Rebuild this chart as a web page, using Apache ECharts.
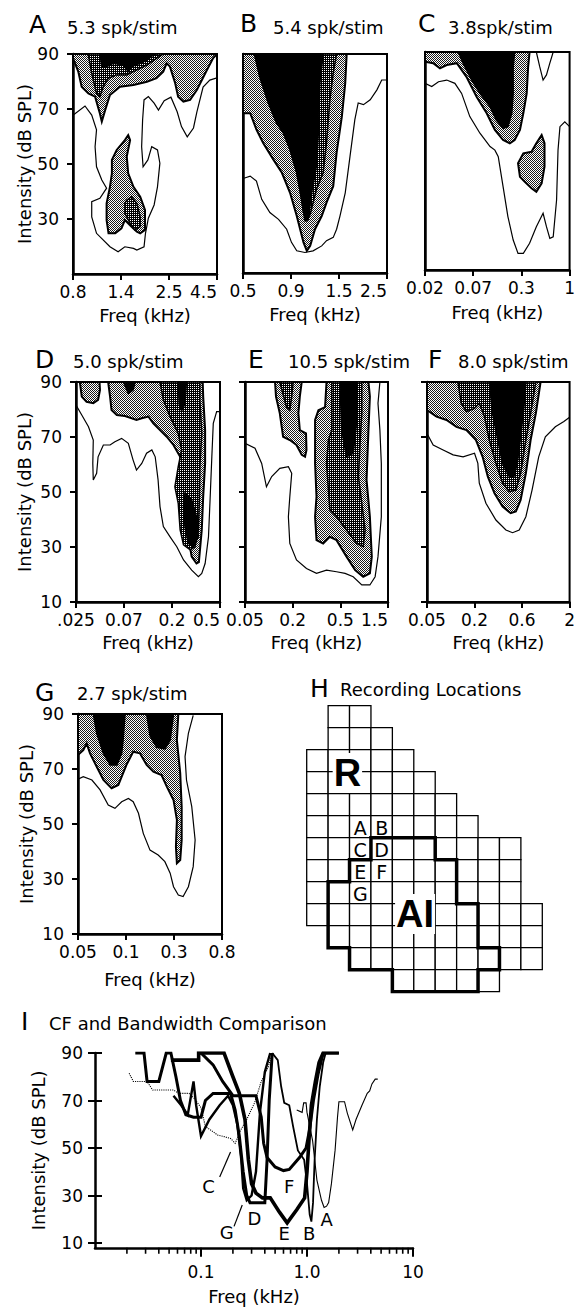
<!DOCTYPE html>
<html><head><meta charset="utf-8">
<script src="https://cdn.jsdelivr.net/npm/echarts@6/dist/echarts.min.js"></script>
<style>html,body{margin:0;padding:0;background:#fff}#c{width:578px;height:1307px}</style>
</head><body><div id="c"></div>
<script>
// ---------------- DATA ----------------
const panelNames = ['A','B','C','D','E','F','G'];
const panelRates = ['5.3 spk/stim','5.4 spk/stim','3.8spk/stim','5.0 spk/stim','10.5 spk/stim','8.0 spk/stim','2.7 spk/stim'];
const A_ticks = ['0.8','1.4','2.5','4.5'];
const B_ticks = ['0.5','0.9','1.5','2.5'];
const C_ticks = ['0.02','0.07','0.3','1'];
const D_ticks = ['.025','0.07','0.2','0.5'];
const E_ticks = ['0.05','0.2','0.5','1.5'];
const F_ticks = ['0.05','0.2','0.6','2'];
const G_ticks = ['0.05','0.1','0.3','0.8'];

// contour lines: x in tick-index units (0..3), y in dB SPL
const A_outer = [[0.006,67.8],[0.25,71.1],[0.39,67.8],[0.49,62.4],[0.46,56.3],[0.49,49.0],[0.60,44.2],[0.70,41.2],[0.56,37.5],[0.39,36.3],[0.39,30.8],[0.49,24.8],[0.77,19.9],[0.94,18.1],[1.08,19.9],[1.26,19.3],[1.33,18.7],[1.48,19.9],[1.51,24.8],[1.57,30.3],[1.69,35.1],[1.76,41.7],[1.81,50.3],[1.76,55.1],[1.64,56.3],[1.56,51.5],[1.46,49.0],[1.43,56.3],[1.45,66.0],[1.48,73.3],[1.57,74.5],[1.69,72.1],[1.78,69.6],[1.90,73.0],[2.04,74.3],[2.17,69.0],[2.26,63.6],[2.38,59.9],[2.51,63.1],[2.58,68.9],[2.71,78.0],[2.85,80.5],[3.0,81.3]];
const A_stip = [[0,90],[0,88.5],[0.11,83.6],[0.18,78.1],[0.32,75.7],[0.46,74.5],[0.56,68.4],[0.60,65.4],[0.67,69.6],[0.77,75.1],[0.98,78.1],[1.26,78.7],[1.54,79.9],[1.74,81.2],[1.88,83.6],[1.95,86.6],[2.02,85.4],[2.13,79.3],[2.19,74.5],[2.30,72.7],[2.44,73.3],[2.58,76.9],[2.79,84.2],[2.92,88.5],[3,90]];
const A_stip2 = [[0.81,51.5],[0.91,55.1],[1.08,58.7],[1.15,60.5],[1.19,58.7],[1.12,52.7],[1.15,46.6],[1.26,41.7],[1.40,38.1],[1.50,33.3],[1.50,26.0],[1.40,24.8],[1.33,25.4],[1.22,27.2],[1.08,29.6],[1.01,26.6],[0.88,24.8],[0.74,24.8],[0.70,29.6],[0.70,35.7],[0.77,41.7],[0.81,46.6]];
const A_dark = [[0.32,90],[0.32,89.6],[0.39,83],[0.49,75.7],[0.56,74.5],[0.63,78.1],[0.74,81.2],[0.91,82.4],[1.12,82.4],[1.26,83.6],[1.54,86],[1.74,88.4],[1.88,90]];
const A_dark2 = [[1.12,36.9],[1.22,38.1],[1.33,35.7],[1.40,30.8],[1.40,27.2],[1.29,26.0],[1.19,28.4],[1.08,32.1],[1.08,35.7]];
const A_black = [[0.56,90],[0.60,85.4],[0.70,85.4],[0.84,86.6],[1.05,86],[1.15,83.6],[1.22,85.4],[1.40,86.6],[1.54,87.8],[1.67,89.6],[1.74,90]];

const B_outer = [[0,44.5],[0.15,45.4],[0.28,43.6],[0.39,36.9],[0.56,32.1],[0.74,29.6],[0.91,26],[1.01,21.2],[1.12,18.1],[1.29,17.5],[1.46,18.1],[1.64,19.9],[1.74,21.8],[1.88,23],[1.95,26],[2.02,30.8],[2.13,39.3],[2.23,52.7],[2.33,66],[2.40,72.1],[2.51,71.5],[2.65,73.3],[2.79,76.9],[2.89,80.5],[3.0,80.5]];
const B_stip = [[0,90],[0,68.4],[0.15,68.4],[0.28,62.4],[0.42,57.5],[0.63,51.5],[0.81,46.6],[0.98,39.3],[1.12,30.8],[1.26,21.2],[1.33,18.1],[1.40,19.9],[1.50,26],[1.64,30.8],[1.74,35.7],[1.88,41.7],[1.95,53.9],[2.06,67.2],[2.13,79.3],[2.16,90]];
const B_dark = [[0.24,90],[0.35,81.7],[0.53,72.1],[0.70,64.8],[0.84,61.2],[0.98,55.1],[1.12,46.6],[1.22,36.9],[1.26,32.1],[1.33,29.1],[1.40,31.5],[1.53,40.5],[1.67,46.6],[1.74,57.5],[1.81,73.3],[1.88,83],[1.95,90]];
const B_black = [[0.24,90],[0.35,81.7],[0.53,72.1],[0.70,64.8],[0.84,61.2],[0.98,55.1],[1.12,46.6],[1.22,36.9],[1.29,29.1],[1.36,29.6],[1.43,39.3],[1.53,49],[1.57,61.2],[1.60,79.3],[1.67,90]];

const C_outer = [[0,78.5],[0.14,77.3],[0.28,79.1],[0.45,79.7],[0.62,78.5],[0.76,74.8],[0.93,66.3],[1.14,60.2],[1.35,55.3],[1.45,54],[1.52,51.6],[1.62,40.6],[1.72,29.6],[1.83,21],[1.93,16.1],[2.04,16.1],[2.17,19.8],[2.31,25.9],[2.45,30.8],[2.52,25.9],[2.59,21.6],[2.66,22.2],[2.73,35.7],[2.76,54],[2.80,62.6],[2.90,64.4],[3.0,62.6]];
const C_outer2 = [[2.31,90],[2.38,84.6],[2.45,79.7],[2.52,81.6],[2.59,85.9],[2.66,90]];
const C_stip = [[0,90],[0,86.4],[0.17,85.9],[0.31,84],[0.45,85.2],[0.66,85.9],[0.86,80.9],[1.07,73.6],[1.28,67.5],[1.45,61.4],[1.62,57.7],[1.76,56.5],[1.86,57.7],[1.97,61.4],[2.04,67.5],[2.11,74.8],[2.14,84.6],[2.17,90]];
const C_stip2 = [[1.93,49.2],[2.04,52.8],[2.21,53.4],[2.31,56.5],[2.42,59.5],[2.48,56.5],[2.48,47.9],[2.42,41.8],[2.31,38.7],[2.21,40],[2.07,42.4],[1.97,44.2]];
const C_black = [[0.69,90],[0.79,85.9],[0.97,79.7],[1.14,74.8],[1.35,69.9],[1.48,65],[1.62,62],[1.72,62.6],[1.80,67.5],[1.83,74.8],[1.83,84.6],[1.86,90]];

const D_outer = [[0,81.6],[0.12,78],[0.26,73.7],[0.36,68.9],[0.35,60.4],[0.36,54.4],[0.43,56.8],[0.46,62.8],[0.57,67.1],[0.71,67.1],[0.81,68.3],[0.95,69.5],[1.09,67.7],[1.19,61.6],[1.26,58],[1.37,60.4],[1.47,64.1],[1.58,65.3],[1.65,62.8],[1.71,54.4],[1.75,44.7],[1.82,37.4],[1.96,33.7],[2.10,30.1],[2.24,25.3],[2.41,21.6],[2.55,19.2],[2.62,20.4],[2.69,24],[2.76,33.7],[2.79,45.9],[2.83,62.8],[2.86,75],[2.93,79.2],[3.0,79.2]];
const D_stip = [[0.08,90],[0.12,84.7],[0.22,82.8],[0.36,82.3],[0.46,83.5],[0.5,87.1],[0.49,90]];
const D_stip2 = [[0.67,90],[0.71,84.7],[0.74,79.8],[0.85,78],[1.02,77.6],[1.16,76.8],[1.26,76.2],[1.37,76.8],[1.51,77.4],[1.61,75],[1.75,72.5],[1.89,70.1],[2.03,67.1],[2.17,62.8],[2.2,56.8],[2.17,50.7],[2.2,43.5],[2.31,36.2],[2.41,26.5],[2.51,24],[2.56,24.5],[2.62,36.2],[2.65,48.3],[2.69,60.4],[2.69,72.5],[2.65,84.7],[2.64,90]];
const D_dark = [[1.75,90],[1.82,83.5],[1.96,77.4],[2.13,71.3],[2.2,65.3],[2.13,59.2],[2.06,51.9],[2.13,45.9],[2.17,36.2],[2.24,30.8],[2.38,29],[2.48,30.1],[2.55,36.2],[2.57,47.1],[2.58,59.2],[2.62,71.3],[2.58,83.5],[2.58,90]];
const D_black = [[0.99,90],[1.09,85.8],[1.19,87.1],[1.23,90]];
const D_black2 = [[2.13,90],[2.15,82],[2.2,79.5],[2.27,82],[2.3,90]];
const D_black3 = [[2.27,49.5],[2.41,47.1],[2.51,41],[2.55,33.7],[2.44,30.1],[2.34,31.3],[2.27,37.4],[2.24,44.7]];

const E_outer = [[0,67.7],[0.21,65.9],[0.35,60.4],[0.45,51.9],[0.56,55.6],[0.73,58.6],[0.91,59.2],[0.98,56.8],[0.94,48.3],[0.91,41],[0.94,31.3],[1.08,25.3],[1.29,22.2],[1.50,20.4],[1.71,21.6],[1.92,21],[2.10,20.4],[2.27,19.2],[2.45,16.2],[2.62,16.2],[2.73,19.2],[2.79,26.5],[2.86,41],[2.86,60.4],[2.83,72.5],[2.79,82.3],[2.83,90]];
const E_stip = [[0.63,90],[0.65,84.7],[0.73,78.6],[0.77,73.7],[0.80,70.1],[0.94,68.9],[1.08,67.1],[1.19,63.5],[1.26,62.8],[1.29,65.3],[1.28,71.3],[1.15,72.5],[1.12,78.6],[1.15,84.7],[1.19,90]];
const E_stip2 = [[1.71,90],[1.68,80.9],[1.54,79.7],[1.47,76.2],[1.47,60.4],[1.50,48.3],[1.47,41],[1.50,32.5],[1.64,31.3],[1.78,33.7],[1.92,32.5],[2.13,26.5],[2.31,21.6],[2.48,19.2],[2.62,20.4],[2.66,26.5],[2.62,41],[2.55,54.4],[2.59,72.5],[2.62,84.7],[2.59,90]];
const E_dark = [[0.73,90],[0.87,80.9],[0.94,79.8],[0.98,84.7],[1.01,90]];
const E_dark2 = [[1.82,90],[1.82,72.5],[1.75,68.9],[1.71,60.4],[1.75,50.7],[1.78,43.5],[1.92,41],[2.13,36.2],[2.34,31.3],[2.48,30.1],[2.52,36.2],[2.45,45.9],[2.38,55.6],[2.41,66.5],[2.45,78.6],[2.45,90]];
const E_black = [[1.99,90],[2.03,72.5],[2.13,62.8],[2.27,64.1],[2.34,75],[2.34,90]];

const F_outer = [[0,71.3],[0.13,67.1],[0.34,65.3],[0.55,63.5],[0.76,62.8],[1.0,64.1],[1.07,60.4],[1.10,53.2],[1.24,45.9],[1.45,39.8],[1.66,36.2],[1.80,35.2],[1.94,36.2],[2.08,41],[2.21,50.7],[2.35,62.8],[2.49,70.1],[2.70,73.7],[2.88,75.6],[3.0,77.2]];
const F_stip = [[0,90],[0,79.8],[0.2,77.4],[0.41,76.2],[0.62,73.7],[0.83,72.5],[1.03,68.9],[1.17,62.8],[1.28,55.6],[1.42,49.5],[1.59,44.7],[1.76,42.3],[1.87,42.9],[1.97,47.1],[2.08,56.8],[2.18,68.9],[2.29,78.6],[2.39,90]];
const F_dark = [[0.65,90],[0.72,82.3],[0.83,79.2],[1.0,80.4],[1.1,82.3],[1.21,77.4],[1.31,68.9],[1.45,60.4],[1.59,53.2],[1.73,50.1],[1.87,50.7],[1.97,56.8],[2.08,68.9],[2.18,78.6],[2.29,90]];
const F_black = [[1.31,90],[1.38,78.6],[1.49,68.9],[1.59,60.4],[1.73,55.6],[1.83,55.6],[1.90,60.4],[1.97,70.1],[2.04,81],[2.08,90]];

const G_outer = [[0,66.3],[0.11,67.2],[0.29,66],[0.46,62.4],[0.63,56.9],[0.77,55.7],[0.91,58.1],[1.05,59.3],[1.15,58.1],[1.26,53.9],[1.36,46.6],[1.5,40.5],[1.67,38.7],[1.81,36.3],[1.92,32.1],[1.99,27.2],[2.09,24.2],[2.19,23.6],[2.30,27.2],[2.40,34.5],[2.44,44.2],[2.37,56.3],[2.26,66],[2.23,74.5],[2.30,83],[2.40,89.5]];
const G_stip = [[0,90],[0,75.1],[0.11,76.9],[0.18,79.3],[0.25,75.7],[0.39,70.8],[0.53,66],[0.70,63],[0.84,64.2],[1.01,71.5],[1.15,76.3],[1.29,75.7],[1.43,71.5],[1.57,69],[1.74,67.8],[1.85,63.6],[1.99,58.7],[2.06,51.5],[2.04,41.7],[2.06,35.7],[2.13,36.9],[2.16,44.2],[2.16,56.3],[2.13,68.4],[2.06,80.5],[2.09,90]];
const G_black = [[0.32,90],[0.39,83],[0.53,75.7],[0.67,71.5],[0.81,71.5],[0.91,75.7],[0.94,80.5],[0.98,90]];
const G_black2 = [[1.43,90],[1.5,82.1],[1.64,77.9],[1.81,77.3],[1.92,80.5],[1.99,90]];

// H: recording grid (row r has cells from rowStart[r] to rowEnd[r])
const H_rowStart = [1,1,0,0,0,0,0,0,0,0,1,2,4];
const H_rowEnd   = [2,3,4,5,6,7,9,9,9,10,10,10,8];
const H_sites = [['A',2,5],['B',3,5],['C',2,6],['D',3,6],['E',2,7],['F',3,7],['G',2,8]];
const H_regions = [['R',1.9,3.06],['AI',5.06,9.47]];
const H_border = [[3,6],[6,6],[6,7],[7,7],[7,9],[8,9],[8,11],[9,11],[9,12],[8,12],[8,13],[4,13],[4,12],[2,12],[2,11],[1,11],[1,8],[2,8],[2,7],[3,7],[3,6]];

// I: tuning curves (freq kHz, dB SPL)
const I_A = [[0.8,66],[0.9,65],[0.93,69],[0.98,69],[1.0,65],[1.13,53],[1.24,36.5],[1.37,28],[1.45,25],[1.53,25.5],[1.6,27],[1.7,35],[1.84,49],[1.94,63],[2.0,69.5],[2.26,69.5],[2.4,64.7],[2.7,57.6],[2.9,62],[3.3,68],[3.7,73],[3.9,74],[4.1,77],[4.4,79],[4.65,79]];
const I_B = [[0.47,90],[0.53,87],[0.57,76],[0.61,69],[0.68,68],[0.74,59],[0.82,49],[0.94,45],[1.0,35],[1.06,22],[1.1,19],[1.14,27],[1.18,45],[1.24,62],[1.32,76],[1.42,86],[1.5,90],[2.0,90]];
const I_C = [[0.021,81.5],[0.023,78],[0.031,78],[0.035,74.4],[0.055,74.4],[0.062,73],[0.077,73],[0.086,71],[0.1,67],[0.11,59],[0.123,57.6],[0.143,55.5],[0.165,54.8],[0.19,54],[0.21,52],[0.24,58],[0.27,62],[0.32,69],[0.37,78],[0.43,84],[0.47,90]];
const I_D = [[0.024,90],[0.029,90],[0.031,78],[0.04,78],[0.047,90],[0.052,90],[0.058,80],[0.064,70],[0.072,64],[0.085,63],[0.1,63],[0.11,70],[0.13,73],[0.19,73],[0.21,66],[0.23,55],[0.25,40],[0.27,30],[0.29,27],[0.4,27],[0.42,45],[0.44,70],[0.47,90]];
const I_E = [[0.052,87],[0.095,87],[0.095,90],[0.165,90],[0.2,80],[0.23,73],[0.26,62],[0.28,45],[0.3,35],[0.33,31],[0.38,29],[0.45,29],[0.55,23],[0.65,18.5],[0.8,24],[0.95,29],[1.0,40],[1.05,55],[1.1,68],[1.2,78],[1.3,86],[1.42,90],[2.0,90]];
const I_F = [[0.1,90],[0.13,85],[0.16,78],[0.2,72],[0.33,72],[0.37,63],[0.39,52],[0.42,46],[0.5,42],[0.6,40.5],[0.68,41],[0.85,46],[0.98,50],[1.06,58],[1.15,70],[1.27,81],[1.42,90]];
const I_G = [[0.055,72],[0.065,68],[0.075,64],[0.085,78],[0.09,68],[0.1,55],[0.12,62],[0.15,68],[0.18,72],[0.2,68],[0.22,60],[0.24,45],[0.25,33],[0.27,28],[0.3,30],[0.33,40],[0.36,65],[0.4,82],[0.45,90]];
const I_labels = [['C',0.118,33.6],['G',0.175,14.6],['D',0.32,20.5],['E',0.61,14.2],['B',1.05,14.2],['A',1.53,19.7],['F',0.68,33.6]];
const I_pointerC = [[0.15,37.8],[0.19,48.3]];
const I_pointerG = [[0.205,17],[0.245,26]];
const I_xLabels = ['', '0.1', '1.0', '10'];
const I_minorTicks = [0.02,0.03,0.04,0.05,0.06,0.07,0.08,0.09,0.2,0.3,0.4,0.5,0.6,0.7,0.8,0.9,2,3,4,5,6,7,8,9];
const I_yTicks = [10,30,50,70,90];

// ---------------- LAYOUT / STYLE ----------------
const FF = 'DejaVu Sans';
const layout = [
  {left:73, top:54, width:144, height:220},
  {left:243, top:54, width:144, height:219},
  {left:425, top:52, width:145, height:218},
  {left:76, top:382, width:144, height:220},
  {left:245, top:382, width:143, height:220},
  {left:427, top:382, width:144, height:220},
  {left:78, top:714, width:144, height:220}
];
const titlePos = [[29,24,67,27],[240,23,273,27],[418,23,448,27],[35,359,73,361],[248,359,288,361],[428,359,458,361],[35,692,77,693]];
const panels = [
  {ticks:A_ticks, yLab:true, yTick:true, hideMin:true, maxL:'right', xGap:32, yGap:40, outer:[A_outer], stip:[A_stip,A_stip2], dark:[A_dark,A_dark2], black:[A_black]},
  {ticks:B_ticks, yLab:false, yTick:false, hideMin:true, maxL:'right', xGap:32, yGap:40, outer:[B_outer], stip:[B_stip], dark:[B_dark], black:[B_black]},
  {ticks:C_ticks, yLab:false, yTick:false, hideMin:true, maxL:'center', xGap:33, yGap:40, outer:[C_outer,C_outer2], stip:[C_stip,C_stip2], dark:[], black:[C_black]},
  {ticks:D_ticks, yLab:true, yTick:true, hideMin:false, maxL:'right', xGap:31, yGap:43, outer:[D_outer], stip:[D_stip,D_stip2], dark:[D_dark], black:[D_black,D_black2,D_black3]},
  {ticks:E_ticks, yLab:false, yTick:true, hideMin:false, maxL:'right', xGap:31, yGap:43, outer:[E_outer], stip:[E_stip,E_stip2], dark:[E_dark,E_dark2], black:[E_black]},
  {ticks:F_ticks, yLab:false, yTick:true, hideMin:false, maxL:'center', xGap:31, yGap:43, outer:[F_outer], stip:[F_stip], dark:[F_dark], black:[F_black]},
  {ticks:G_ticks, yLab:true, yTick:true, hideMin:false, maxL:'center', xGap:36, yGap:43, outer:[G_outer], stip:[G_stip], dark:[], black:[G_black,G_black2]}
];

function makePattern(fg, bg, dots, size) {
  const c = document.createElement('canvas'); c.width = size; c.height = size;
  const g = c.getContext('2d'); g.fillStyle = bg; g.fillRect(0,0,size,size);
  g.fillStyle = fg; dots.forEach(d => g.fillRect(d[0], d[1], 1, 1));
  return {image: c, repeat: 'repeat'};
}
const FILL = {
  stip: makePattern('#1a1a1a', '#ffffff', [[0,0],[1,1]], 2),
  dark: makePattern('#ffffff', '#000000', [[0,0]], 2),
  black: '#000'
};
const LW = {outer: 1.2, stip: 2, dark: 1.5, black: 1.5};

function polySeries(gi, pts, kind) {
  return {
    type: 'custom', coordinateSystem: 'cartesian2d', xAxisIndex: gi, yAxisIndex: gi,
    data: pts, clip: true, silent: true, animation: false,
    renderItem: function (params, api) {
      if (params.dataIndex !== 0) return null;
      const points = pts.map(p => api.coord(p));
      if (kind === 'outer') {
        return {type: 'polyline', shape: {points}, style: {fill: null, stroke: '#000', lineWidth: LW.outer}};
      }
      return {type: 'polygon', shape: {points}, style: {fill: FILL[kind], stroke: '#000', lineWidth: LW[kind]}};
    }
  };
}

const grids = [], xAxes = [], yAxes = [], series = [], graphics = [];
const lbl = {fontFamily: FF, fontSize: 17, color: '#000'};
const nameStyle = {fontFamily: FF, fontSize: 18, color: '#000'};

panels.forEach((p, i) => {
  grids.push(Object.assign({show: true, borderColor: '#000', borderWidth: 2, backgroundColor: '#fff'}, layout[i]));
  xAxes.push({
    gridIndex: i, type: 'value', min: 0, max: 3, interval: 1,
    axisLine: {show: true, onZero: false, lineStyle: {color: '#000', width: 2.5}},
    axisTick: {show: true, length: 6, lineStyle: {color: '#000', width: 2}},
    axisLabel: Object.assign({formatter: v => p.ticks[Math.round(v)], margin: 9, alignMaxLabel: p.maxL, hideOverlap: false}, lbl),
    splitLine: {show: false},
    name: 'Freq (kHz)', nameLocation: 'middle', nameGap: p.xGap, nameTextStyle: nameStyle
  });
  yAxes.push({
    gridIndex: i, type: 'value', min: 10, max: 90, interval: 20,
    axisLine: {show: true, onZero: false, lineStyle: {color: '#000', width: 2.5}},
    axisTick: {show: p.yTick, length: 6, lineStyle: {color: '#000', width: 2}},
    axisLabel: Object.assign({show: p.yLab, showMinLabel: !p.hideMin, margin: 14}, lbl),
    splitLine: {show: false},
    name: p.yLab ? 'Intensity (dB SPL)' : '', nameLocation: 'middle', nameGap: p.yGap, nameTextStyle: nameStyle
  });
  p.outer.forEach(pts => series.push(polySeries(i, pts, 'outer')));
  p.stip.forEach(pts => series.push(polySeries(i, pts, 'stip')));
  p.dark.forEach(pts => series.push(polySeries(i, pts, 'dark')));
  p.black.forEach(pts => series.push(polySeries(i, pts, 'black')));
});

function gtext(x, y, text, size, weight) {
  return {type: 'text', x: x, y: y, silent: true,
    style: {text: text, font: (weight || 'normal') + ' ' + size + 'px "' + FF + '"', fill: '#000', verticalAlign: 'middle', textVerticalAlign: 'middle'}};
}
panelNames.forEach((n, i) => {
  const t = titlePos[i];
  graphics.push(gtext(t[0], t[1], n, 25));
  graphics.push(gtext(t[2], t[3], panelRates[i], 18));
});
graphics.push(gtext(310, 688, 'H', 25));
graphics.push(gtext(340, 689, 'Recording Locations', 18));
graphics.push(gtext(21, 1021, 'I', 25));
graphics.push(gtext(49, 1023, 'CF and Bandwidth Comparison', 18));

// text-label helper series (custom text through the axes)
function textSeries(xi, yi, items, font, bg) {
  return {
    type: 'custom', coordinateSystem: 'cartesian2d', xAxisIndex: xi, yAxisIndex: yi, data: items,
    silent: true, clip: false, z: 10,
    renderItem: function (params, api) {
      const p = api.coord([api.value(0), api.value(1)]);
      const t = items[params.dataIndex][2];
      return {type: 'text', x: p[0], y: p[1], z2: 20,
        style: {text: t, font: font, fill: '#000', align: 'center', verticalAlign: 'middle',
          textAlign: 'center', textVerticalAlign: 'middle', backgroundColor: bg || null, padding: bg ? [2, 1, 0, 1] : 0}};
    }
  };
}

// ---- H grid ----
const HI = 7;
grids.push({left: 306.7, top: 705.7, width: 235.6, height: 286, show: false});
xAxes.push({gridIndex: HI, type: 'value', min: 0, max: 11, show: false});
yAxes.push({gridIndex: HI, type: 'value', min: 0, max: 13, inverse: true, show: false});
const H_cells = [];
H_rowStart.forEach((s, r) => { for (let c = s; c <= H_rowEnd[r]; c++) H_cells.push([c, r]); });
series.push({
  type: 'custom', coordinateSystem: 'cartesian2d', xAxisIndex: HI, yAxisIndex: HI, data: H_cells, silent: true,
  renderItem: function (params, api) {
    const c = api.value(0), r = api.value(1);
    const p0 = api.coord([c, r]), p1 = api.coord([c + 1, r + 1]);
    return {type: 'rect', shape: {x: p0[0], y: p0[1], width: p1[0] - p0[0], height: p1[1] - p0[1]},
      style: {fill: '#fff', stroke: '#000', lineWidth: 1.3}};
  }
});
series.push({
  type: 'line', xAxisIndex: HI, yAxisIndex: HI, data: H_border, showSymbol: false, silent: true,
  lineStyle: {color: '#000', width: 3.5, join: 'miter', cap: 'square'}
});
series.push(textSeries(HI, HI, H_sites.map(s => [s[1] + 0.5, s[2] + 0.55, s[0]]), '19px "' + FF + '"'));
series.push(textSeries(HI, HI, H_regions.map(s => [s[1], s[2], s[0]]), 'bold 38px "Liberation Sans"', '#fff'));

// ---- I panel ----
const II = 8;
grids.push({left: 95, top: 1053, width: 318, height: 194.75, show: false});
xAxes.push({
  gridIndex: II, type: 'log', logBase: 10, min: 0.01, max: 10,
  axisLine: {show: true, onZero: false, lineStyle: {color: '#000', width: 2.5}},
  axisTick: {show: true, length: 9, lineStyle: {color: '#000', width: 2}},
  axisLabel: Object.assign({formatter: v => I_xLabels[Math.round(Math.log10(v)) + 2], showMinLabel: false, margin: 16}, lbl),
  splitLine: {show: false}, minorTick: {show: false},
  name: 'Freq (kHz)', nameLocation: 'middle', nameGap: 40, nameTextStyle: nameStyle
});
yAxes.push({
  gridIndex: II, type: 'value', min: 8, max: 90, position: 'left',
  axisLine: {show: true, onZero: false, lineStyle: {color: '#000', width: 2.5}},
  axisTick: {show: true, length: 7, customValues: I_yTicks, lineStyle: {color: '#000', width: 2}},
  axisLabel: Object.assign({customValues: I_yTicks, margin: 12}, lbl),
  splitLine: {show: false},
  name: 'Intensity (dB SPL)', nameLocation: 'middle', nameGap: 48, nameTextStyle: nameStyle
});
yAxes.push({
  gridIndex: II, type: 'value', min: 8, max: 90, position: 'left',
  axisLine: {show: false},
  axisTick: {show: true, inside: true, length: 7, customValues: I_yTicks, lineStyle: {color: '#000', width: 2}},
  axisLabel: {show: false}, splitLine: {show: false}
});
series.push({
  type: 'custom', coordinateSystem: 'cartesian2d', xAxisIndex: II, yAxisIndex: II, clip: false, silent: true,
  data: I_minorTicks.map(f => [f, 8]),
  renderItem: function (params, api) {
    const p = api.coord([api.value(0), api.value(1)]);
    return {type: 'line', shape: {x1: p[0], y1: p[1], x2: p[0], y2: p[1] + 6}, style: {stroke: '#000', lineWidth: 1.6}};
  }
});
const curveStyles = [
  [I_A, 1.1, 'solid'], [I_B, 1.8, 'solid'], [I_C, 1.1, 'dotted'], [I_D, 3, 'solid'],
  [I_E, 3.6, 'solid'], [I_F, 3, 'solid'], [I_G, 2.4, 'solid']
];
curveStyles.forEach(cs => series.push({
  type: 'line', xAxisIndex: II, yAxisIndex: II, data: cs[0], showSymbol: false, silent: true,
  lineStyle: {color: '#000', width: cs[1], type: cs[2], join: 'miter'}
}));
[I_pointerC, I_pointerG].forEach(pp => series.push({
  type: 'line', xAxisIndex: II, yAxisIndex: II, data: pp, showSymbol: false, silent: true,
  lineStyle: {color: '#000', width: 1.2}
}));
series.push(textSeries(II, II, I_labels.map(s => [s[1], s[2], s[0]]), '18px "' + FF + '"'));

const chart = echarts.init(document.getElementById('c'), null, {renderer: 'svg', width: 578, height: 1307});
chart.setOption({
  animation: false,
  backgroundColor: '#fff',
  grid: grids, xAxis: xAxes, yAxis: yAxes, series: series, graphic: graphics
});
</script></body></html>
